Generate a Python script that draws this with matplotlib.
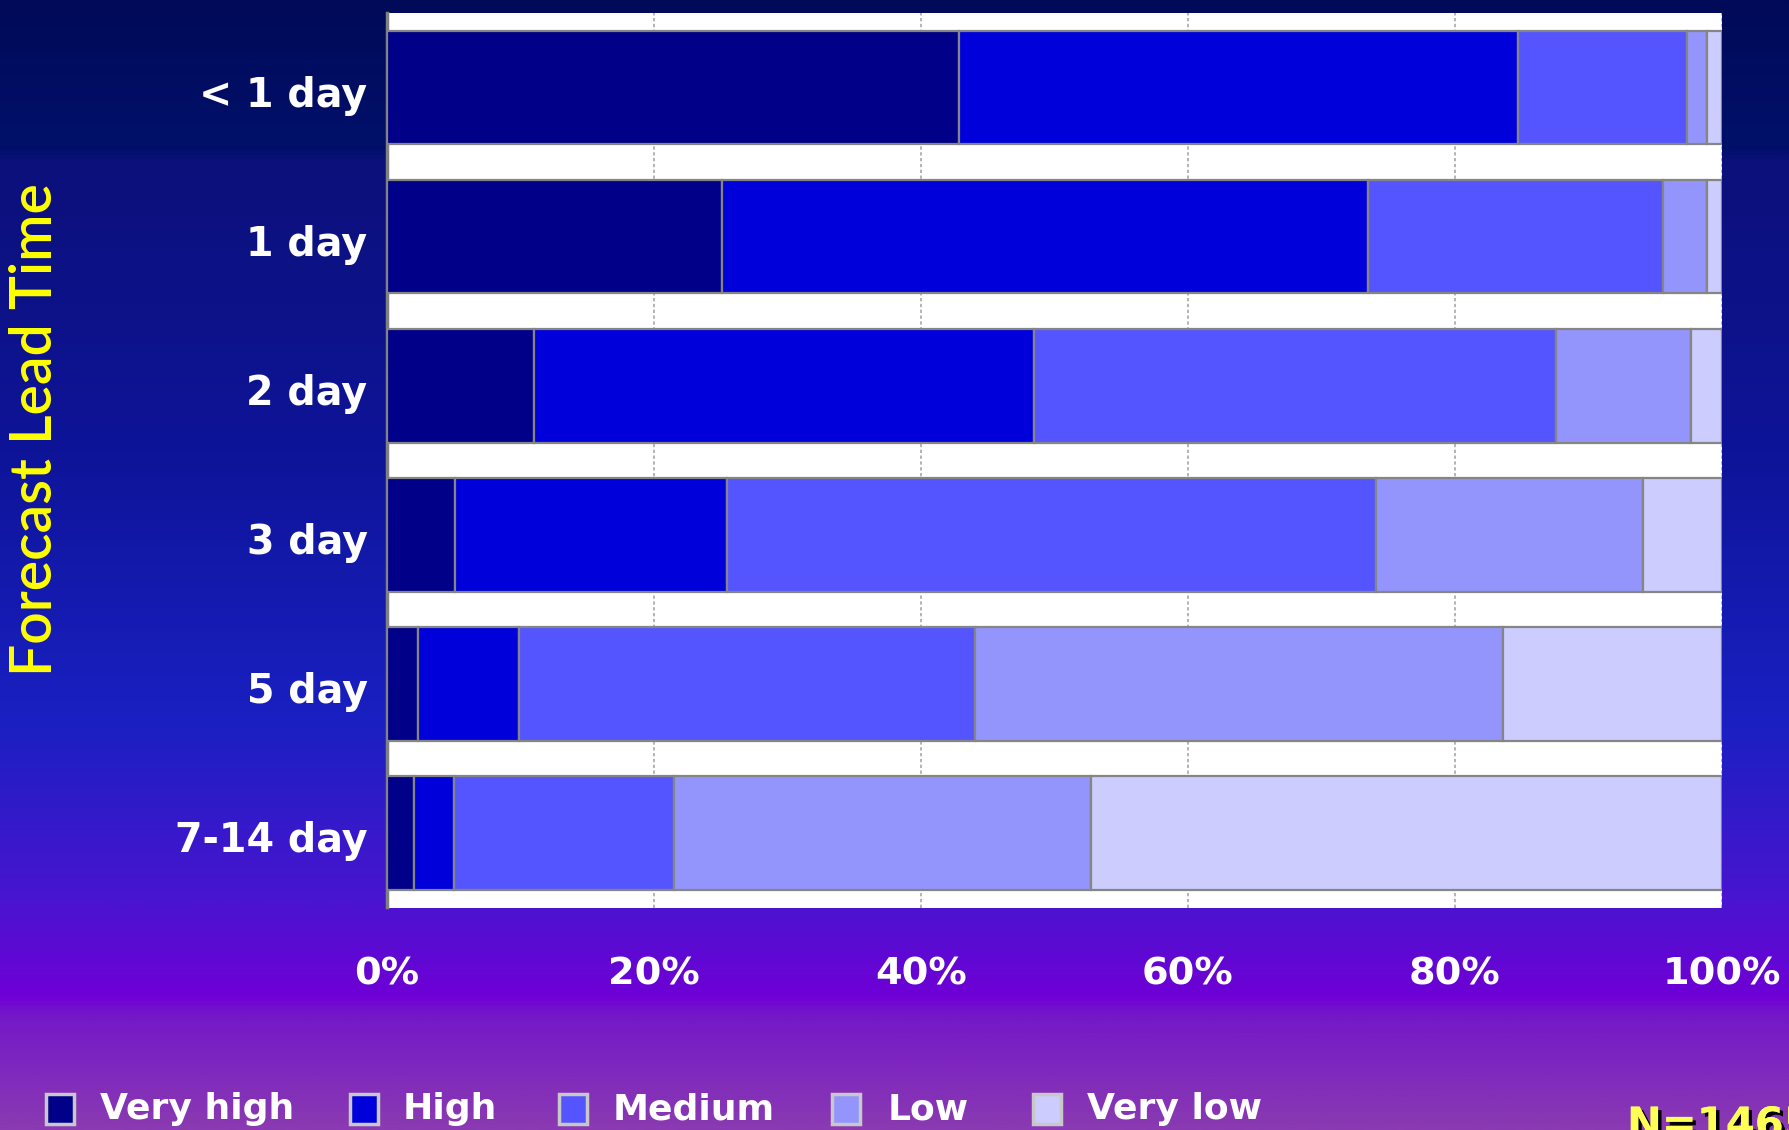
import matplotlib
matplotlib.use('Agg')
import matplotlib.pyplot as plt
import numpy as np
from matplotlib.colors import LinearSegmentedColormap
from matplotlib.patches import Rectangle
from matplotlib.transforms import ScaledTranslation
import matplotlib.patheffects as pe

# ---------------- data ----------------
categories = ['< 1 day', '1 day', '2 day', '3 day', '5 day', '7-14 day']
very_high = [42.85, 25.1, 11.0, 5.07, 2.3, 2.05]
high = [41.9, 48.4, 37.45, 20.43, 7.6, 2.95]
medium = [12.65, 22.1, 39.1, 48.55, 34.15, 16.5]
low = [1.5, 3.3, 10.15, 20.0, 39.52, 31.2]
very_low = [1.1, 1.1, 2.3, 5.95, 16.43, 47.3]
series_names = ['Very high', 'High', 'Medium', 'Low', 'Very low']
xtick_values = [0, 20, 40, 60, 80, 100]
xtick_labels = ['0%', '20%', '40%', '60%', '80%', '100%']
y_title = 'Forecast Lead Time'
sample_label = 'N=1465'

colors = ['#000088', '#0000DA', '#5555FF', '#9494FD', '#CCCCFF']
W, H = 1790, 1130

fig = plt.figure(figsize=(W / 100, H / 100), dpi=100)

# background gradient
bg = fig.add_axes([0, 0, 1, 1], zorder=-10)
stops = [(0.0, '#000a58'), (0.13, '#00106a'), (0.14, '#0c107a'),
         (0.40, '#0e1498'), (0.64, '#1a20c2'), (0.80, '#4a14d0'),
         (0.885, '#7000d6'), (0.90, '#7418c8'), (1.0, '#8a3ab2')]
cmap = LinearSegmentedColormap.from_list('bg', stops)
grad = np.linspace(0, 1, 1000).reshape(-1, 1)
bg.imshow(grad, aspect='auto', cmap=cmap, extent=[0, 1, 0, 1], origin='upper')
bg.set_xlim(0, 1); bg.set_ylim(0, 1)
bg.axis('off')

ax = fig.add_axes([387 / W, 1 - 907.5 / H, (1722 - 387) / W, (907.5 - 13.3) / H])
ax.set_facecolor('white')

series = [very_high, high, medium, low, very_low]
y = np.arange(len(categories))
left = np.zeros(len(categories))
for vals, col, name in zip(series, colors, series_names):
    ax.barh(y, vals, left=left, height=0.76, color=col, edgecolor='#858585',
            linewidth=1.6, label=name, zorder=3)
    left += np.array(vals)

ax.set_xlim(0, 100)
ax.set_ylim(len(categories) - 0.5, -0.5)
ax.set_axisbelow(True)
ax.xaxis.grid(True, linestyle=(0, (2, 1.5)), color='#a8a8a8', linewidth=1.2)
ax.set_xticks(xtick_values)
ax.set_xticklabels(xtick_labels, fontsize=27.5, fontweight='bold', color='white')
ax.set_yticks(y)
ax.set_yticklabels(categories, fontsize=28.5, fontweight='bold', color='white')
ax.tick_params(axis='both', length=0)
ax.tick_params(axis='x', pad=35)
ax.tick_params(axis='y', pad=14)
shift = ScaledTranslation(0, -4 / 100, fig.dpi_scale_trans)
for lab in ax.get_yticklabels():
    lab.set_transform(lab.get_transform() + shift)
for s in ['top', 'right', 'bottom']:
    ax.spines[s].set_visible(False)
ax.spines['left'].set_color('#808080')
ax.spines['left'].set_linewidth(2.5)

fig.text(36 / W, 1 - 430 / H, y_title, rotation=90, va='center', ha='center',
         color='#FFFF00', fontsize=41, family=['Lato', 'DejaVu Sans'], fontweight='semibold')

# legend (manual)
sq_x = [45.7, 350.5, 559.4, 832.2, 1033]
tx_x = [100.5, 403, 613, 888, 1087]
for name, col, sx, tx in zip(series_names, colors, sq_x, tx_x):
    fig.patches.append(Rectangle((sx / W, 1 - 1124 / H), 28 / W, 30 / H,
                                 transform=fig.transFigure, facecolor=col,
                                 edgecolor='#c8c8c8', linewidth=2.5))
    fig.text(tx / W, 1 - 1109 / H, name, va='center', ha='left', fontsize=26,
             fontweight='bold', color='white')

fig.text(1627 / W, 1 - 1104 / H, sample_label, va='top', ha='left', fontsize=30,
         fontweight='bold', color='#FFFF55',
         path_effects=[pe.withSimplePatchShadow(offset=(2.5, -2.5), shadow_rgbFace='black', alpha=1.0),
                       pe.Normal()])

fig.savefig('out.png', dpi=100)
